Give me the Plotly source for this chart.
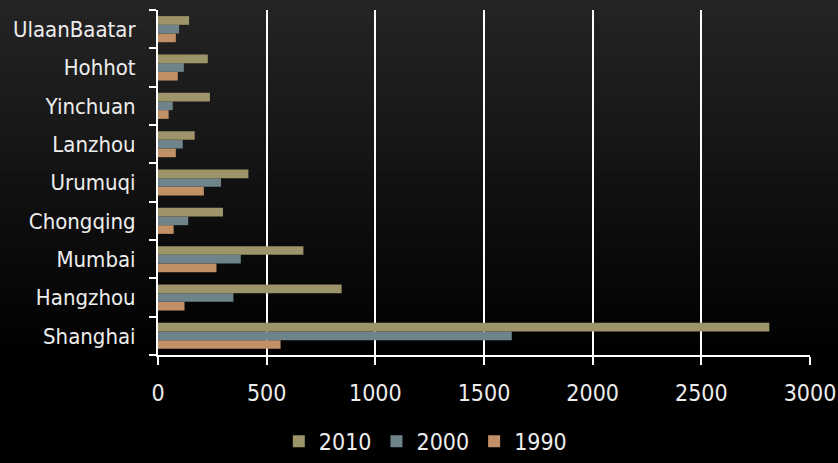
import plotly.graph_objects as go

cities = ["Shanghai", "Hangzhou", "Mumbai", "Chongqing", "Urumuqi",
          "Lanzhou", "Yinchuan", "Hohhot", "UlaanBaatar"]
v2010 = [2813, 845, 669, 299, 416, 169, 239, 229, 143]
v2000 = [1628, 347, 381, 139, 290, 114, 68, 119, 97]
v1990 = [564, 122, 269, 72, 211, 82, 49, 91, 82]
x_ticks = [0, 500, 1000, 1500, 2000, 2500, 3000]

series = [("1990", v1990, "#C29066"), ("2000", v2000, "#6E848A"), ("2010", v2010, "#9D9469")]

fig = go.Figure()
for name, vals, col in series:
    fig.add_trace(go.Bar(y=cities, x=vals, name=name, orientation="h",
                         marker=dict(color=col, line=dict(width=0))))

# background gradient bands (top dark gray -> black)
shapes = []
n = 46
for i in range(n):
    t = i / (n - 1)
    y0 = 1.03 - i * (1.35 / n)
    y1 = y0 + 1.35 / n + 0.002
    c = int(round(37 * max(0.0, 1 - t * 1.25)))
    shapes.append(dict(type="rect", xref="paper", yref="paper",
                       x0=-0.3, x1=1.1, y0=y0 - 0.001, y1=y1,
                       fillcolor=f"rgb({c},{c},{c})", line=dict(width=0),
                       layer="below"))

font_name = "DejaVu Sans Condensed"
fig.update_layout(
    width=838, height=463,
    margin=dict(l=158, r=28, t=10, b=108, autoexpand=False),
    paper_bgcolor="black", plot_bgcolor="rgba(0,0,0,0)",
    barmode="group", bargap=0.32, bargroupgap=0,
    shapes=shapes,
    font=dict(family=font_name, color="#EDEDED", size=23),
    showlegend=True,
    legend=dict(orientation="h", traceorder="reversed", x=0.41, xanchor="center",
                yref="container", y=0.047, yanchor="middle",
                font=dict(size=23, color="#EDEDED"),
                itemwidth=30, bgcolor="rgba(0,0,0,0)"),
    xaxis=dict(range=[0, 3000], tickvals=x_ticks, ticktext=[str(v) for v in x_ticks],
               showgrid=True, gridcolor="white", gridwidth=2,
               showline=True, linecolor="white", linewidth=2,
               ticks="outside", ticklen=8, tickcolor="white", tickwidth=2,
               zeroline=False, ticklabelstandoff=8, tickfont=dict(size=23)),
    yaxis=dict(type="category", categoryorder="array", categoryarray=cities,
               showline=True, linecolor="white", linewidth=2,
               ticks="outside", ticklen=7, tickcolor="white", tickwidth=2,
               tickson="boundaries", showgrid=False, ticklabelstandoff=16,
               tickfont=dict(size=22)),
)

fig.write_html("out.html")
